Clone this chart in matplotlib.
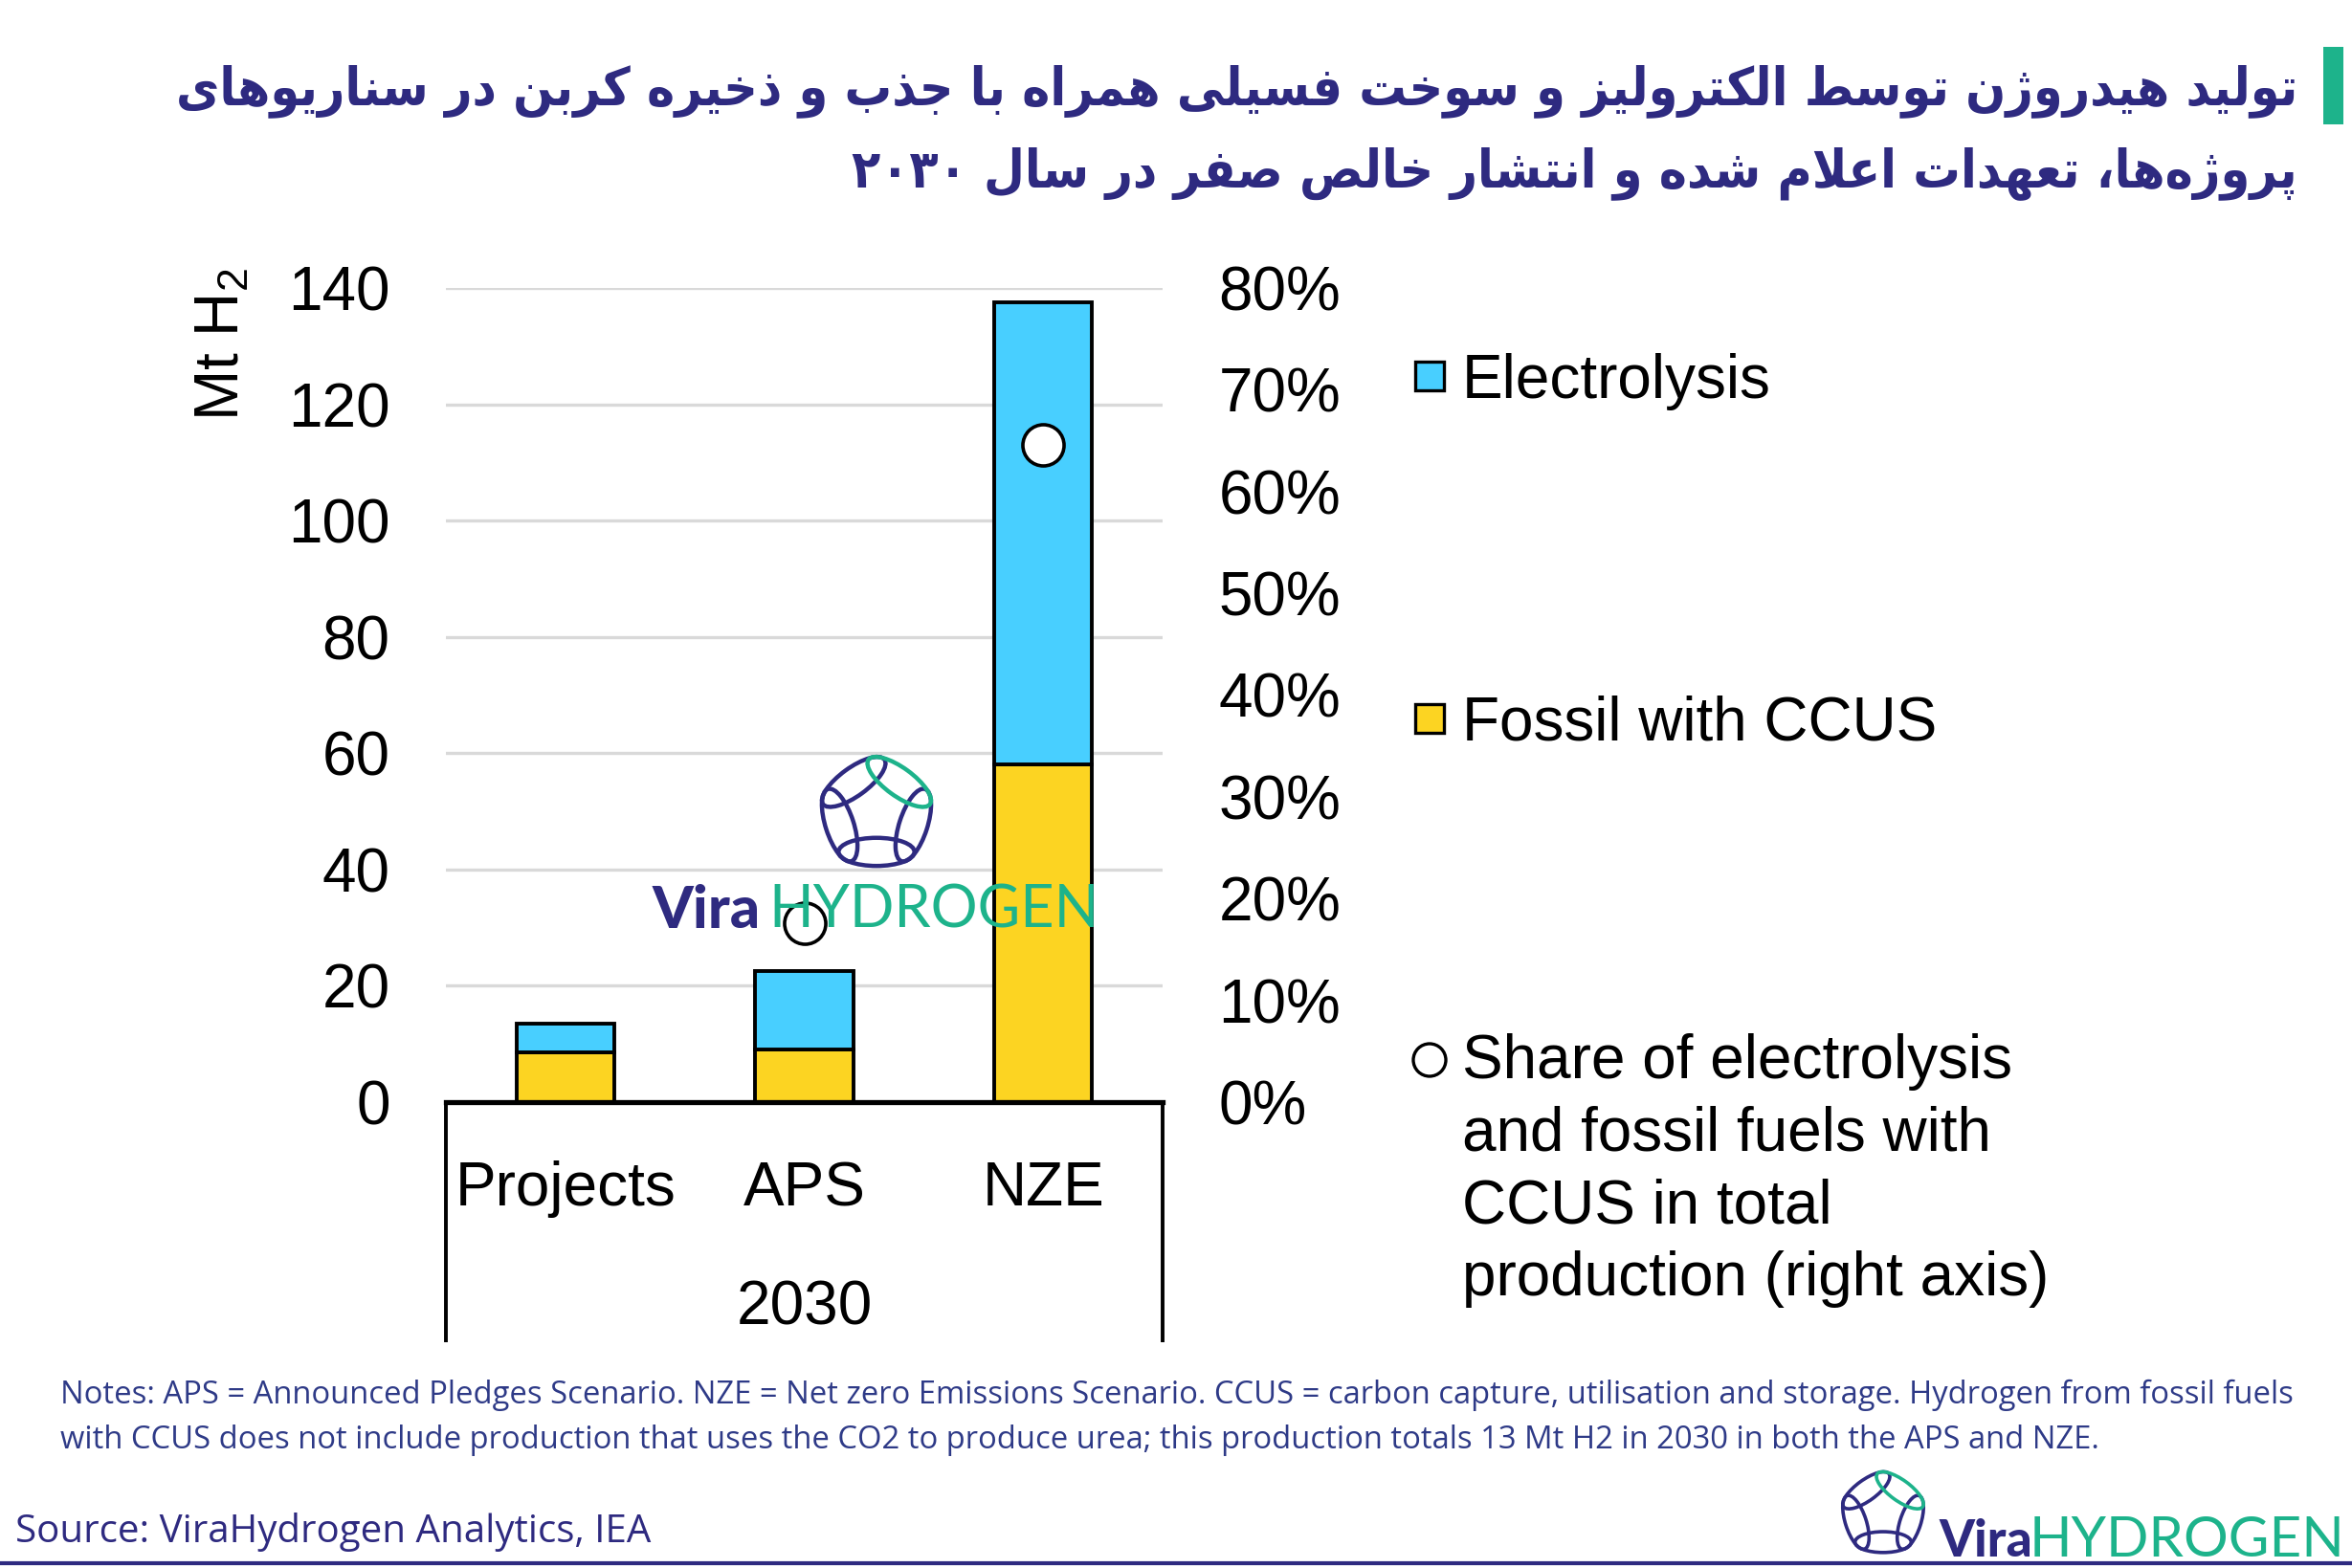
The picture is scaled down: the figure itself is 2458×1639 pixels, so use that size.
import re
import numpy as np
import matplotlib
matplotlib.use("Agg")
import matplotlib.pyplot as plt
from matplotlib.patches import Rectangle, Ellipse
import matplotlib.transforms as mtransforms

plt.rcParams['font.family'] = ['Liberation Sans', 'DejaVu Sans']
plt.rcParams['mathtext.fontset'] = 'custom'
plt.rcParams['mathtext.rm'] = 'Liberation Sans'

# ---- data ----
categories = ['Projects', 'APS', 'NZE']
group_label = '2030'
fossil_ccus = [8.5, 9.0, 58.0]
electrolysis = [5.0, 13.5, 79.5]
share_pct = [np.nan, 17.6, 64.6]
left_ticks = [0, 20, 40, 60, 80, 100, 120, 140]
right_ticks = [0, 10, 20, 30, 40, 50, 60, 70, 80]
series_names = ['Electrolysis', 'Fossil with CCUS',
                'Share of electrolysis\nand fossil fuels with\nCCUS in total\nproduction (right axis)']

title_lines = ['تولید هیدروژن توسط الکترولیز و سوخت فسیلی همراه با جذب و ذخیره کربن در سناریوهای',
               'پروژه\u200cها، تعهدات اعلام شده و انتشار خالص صفر در سال ۲۰۳۰']
notes = ('Notes: APS = Announced Pledges Scenario. NZE = Net zero Emissions Scenario. CCUS = carbon capture, '
         'utilisation and storage. Hydrogen from fossil fuels\nwith CCUS does not include production that uses '
         'the CO2 to produce urea; this production totals 13 Mt H2 in 2030 in both the APS and NZE.')
source = 'Source: ViraHydrogen Analytics, IEA'

BLUE = '#48CFFF'
YELLOW = '#FCD422'
NAVY = '#2E2A80'
GREEN = '#1DB38B'

# ---- simple persian shaping (matplotlib has no bidi / joining) ----
DUAL = {'ب': 0xFE8F, 'پ': 0xFB56, 'ت': 0xFE95, 'ث': 0xFE99, 'ج': 0xFE9D, 'چ': 0xFB7A,
        'ح': 0xFEA1, 'خ': 0xFEA5, 'س': 0xFEB1, 'ش': 0xFEB5, 'ص': 0xFEB9, 'ض': 0xFEBD,
        'ط': 0xFEC1, 'ظ': 0xFEC5, 'ع': 0xFEC9, 'غ': 0xFECD, 'ف': 0xFED1, 'ق': 0xFED5,
        'ک': 0xFB8E, 'گ': 0xFB92, 'ل': 0xFEDD, 'م': 0xFEE1, 'ن': 0xFEE5, 'ه': 0xFEE9,
        'ی': 0xFBFC}
RIGHT = {'ا': 0xFE8D, 'آ': 0xFE81, 'د': 0xFEA9, 'ذ': 0xFEAB, 'ر': 0xFEAD, 'ز': 0xFEAF,
         'ژ': 0xFB8A, 'و': 0xFEED}


def fa(text):
    out = []
    n = len(text)
    i = 0
    while i < n:
        c = text[i]
        prev = text[i - 1] if i > 0 else ''
        nxt = text[i + 1] if i + 1 < n else ''
        if c == 'ل' and nxt == 'ا':
            out.append(chr(0xFEFC if prev in DUAL else 0xFEFB))
            i += 2
            continue
        p = prev in DUAL
        if c in DUAL:
            q = nxt in DUAL or nxt in RIGHT
            out.append(chr(DUAL[c] + (3 if p and q else 1 if p else 2 if q else 0)))
        elif c in RIGHT:
            out.append(chr(RIGHT[c] + (1 if p else 0)))
        elif c != '\u200c':
            out.append(c)
        i += 1
    s = ''.join(out)[::-1]
    return re.sub('[0-9۰-۹]+', lambda m: m.group(0)[::-1], s)


W, H = 2458, 1639
fig = plt.figure(figsize=(W / 200, H / 200), dpi=200)

ax = fig.add_axes([466 / W, 1 - 1152 / H, (1215 - 466) / W, (1152 - 301) / H])
x = np.arange(len(categories))
ax.bar(x, fossil_ccus, width=0.41, color=YELLOW, edgecolor='black', linewidth=1.4, zorder=3)
ax.bar(x, electrolysis, bottom=fossil_ccus, width=0.41, color=BLUE, edgecolor='black',
       linewidth=1.4, zorder=3)
ax.set_xlim(-0.5, 2.5)
ax.set_ylim(0, 140)
ax.set_yticks(left_ticks)
ax.yaxis.grid(True, color='#D9D9D9', linewidth=1.2)
ax.set_axisbelow(True)
for s in ['top', 'left', 'right']:
    ax.spines[s].set_visible(False)
ax.spines['bottom'].set_linewidth(1.9)
ax.spines['bottom'].set_zorder(4)
ax.tick_params(axis='y', length=0, pad=21, labelsize=23)
ax.set_xticks([])

trans = mtransforms.blended_transform_factory(ax.transData, ax.transAxes)
for xi, lab in zip(x, categories):
    ax.text(xi, -0.107, lab, transform=trans, ha='center', va='center', fontsize=23)
ax.text(1, -0.253, group_label, transform=trans, ha='center', va='center', fontsize=23)
for xv in [-0.5, 2.5]:
    ax.plot([xv, xv], [0, -0.295], transform=trans, color='black', linewidth=1.4,
            clip_on=False, solid_capstyle='butt')

ax2 = ax.twinx()
ax2.plot(x, share_pct, 'o', mfc='white', mec='black', ms=15.5, mew=1.3, zorder=5)
ax2.set_ylim(0, 80)
ax2.set_yticks(right_ticks)
ax2.set_yticklabels([f'{t}%' for t in right_ticks])
ax2.tick_params(axis='y', length=0, pad=21, labelsize=23)
for s in ax2.spines.values():
    s.set_visible(False)

# ---- overlay in pixel coords (y from top) ----
ov = fig.add_axes([0, 0, 1, 1])
ov.set_xlim(0, W)
ov.set_ylim(H, 0)
ov.set_axis_off()

ov.text(232, 360, r'Mt H$_\mathrm{2}$', rotation=90, ha='center', va='center', fontsize=23)

# legend
ov.add_patch(Rectangle((1494 - 15, 393 - 15), 30, 30, facecolor=BLUE, edgecolor='black', lw=1.2))
ov.add_patch(Rectangle((1494 - 15, 751 - 15), 30, 30, facecolor=YELLOW, edgecolor='black', lw=1.2))
ov.add_patch(Ellipse((1494, 1108), 34, 34, facecolor='white', edgecolor='black', lw=1.2))
ov.text(1528, 416, series_names[0], fontsize=23, va='baseline')
ov.text(1528, 774, series_names[1], fontsize=23, va='baseline')
ov.text(1528, 1080, series_names[2], fontsize=23, va='top', linespacing=1.33)

# title
for yy, line in zip([95, 181], title_lines):
    ov.text(2401, yy, fa(line), ha='right', va='center', fontsize=19.8, fontweight='bold',
            fontstretch='condensed', color=NAVY, family=['DejaVu Sans'])
ov.add_patch(Rectangle((2428, 49), 21, 81, facecolor=GREEN, edgecolor='none'))

# notes and source
ov.text(63, 1482, notes, fontsize=11.8, color='#2E3A87', va='center', family=['Open Sans'],
        linespacing=1.55)
ov.text(16, 1602, source, fontsize=14.5, color=NAVY, va='center', family=['Open Sans'])
ov.plot([0, W], [1634, 1634], color=NAVY, lw=1.5)


def logo(cx, cy, r, lw):
    ang = np.deg2rad([90, 162, 234, 306, 18])
    vx, vy = cx + r * np.cos(ang), cy - r * np.sin(ang)
    edge = 2 * r * np.sin(np.pi / 5)
    for k in range(5):
        a, b = k, (k + 1) % 5
        mx, my = (vx[a] + vx[b]) / 2, (vy[a] + vy[b]) / 2
        angle = -np.degrees(np.arctan2(-(vy[b] - vy[a]), vx[b] - vx[a]))
        col = GREEN if k == 4 else NAVY
        ov.add_patch(Ellipse((mx, my), edge * 1.35, edge * 0.5, angle=angle,
                             facecolor='none', edgecolor=col, lw=lw))


logo(916, 850, 50, 1.6)
ov.text(682, 970, 'Vira', fontsize=22, fontweight='black', color=NAVY, family=['Lato'], va='baseline')
ov.text(803, 970, 'HYDROGEN', fontsize=22, color=GREEN, family=['Lato'], va='baseline')
logo(1968, 1582, 37, 1.3)
ov.text(2026, 1627, 'Vira', fontsize=19, fontweight='black', color=NAVY, family=['Lato'], va='baseline')
ov.text(2121, 1627, 'HYDROGEN', fontsize=21, color=GREEN, family=['Lato'], va='baseline')

fig.savefig('out.png', dpi=200)
